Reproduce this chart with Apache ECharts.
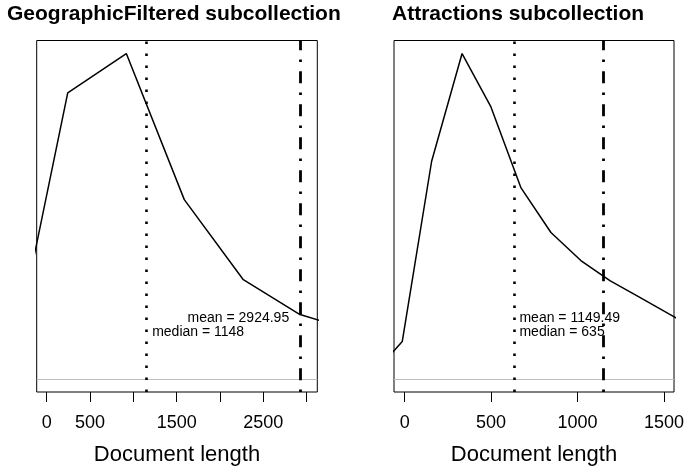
<!DOCTYPE html>
<html>
<head>
<meta charset="utf-8">
<script src="https://cdn.jsdelivr.net/npm/echarts@6/dist/echarts.min.js"></script>
<style>
  html, body { margin: 0; padding: 0; background: #ffffff; }
  #chart { width: 686px; height: 466px; }
</style>
</head>
<body>
<div id="chart"></div>
<script>
// Kernel density of document length per subcollection (relative density, peak = 1)
const geoLength = [-432, 243, 919, 1588, 2269, 2923, 3600];
const geoDensity = [0.006, 0.879, 1.0, 0.551, 0.305, 0.198, 0.143];
const attrLength = [-185, -14, 156, 332, 499, 673, 846, 1019, 1187, 1360, 1531, 1702];
const attrDensity = [0.013, 0.115, 0.669, 1.0, 0.836, 0.587, 0.450, 0.364, 0.302, 0.251, 0.199, 0.149];

// Summary statistics drawn as vertical reference lines
const geoMean = 2924.95;
const geoMedian = 1148;
const attrMean = 1149.49;
const attrMedian = 635;

// Axis ticks and the labels that fit between them
const geoTicks = [0, 500, 1000, 1500, 2000, 2500, 3000];
const geoTickLabels = [0, 500, 1500, 2500];
const attrTicks = [0, 500, 1000, 1500];
const attrTickLabels = [0, 500, 1000, 1500];

const panelTitles = ['GeographicFiltered subcollection', 'Attractions subcollection'];
const xAxisTitle = 'Document length';

const FONT = 'Liberation Sans, Arial, Helvetica, sans-serif';
const LABEL_Y_MEAN = 0.186;
const LABEL_Y_MEDIAN = 0.144;

function pairs(xs, ys) { return xs.map((x, i) => [x, ys[i]]); }

function xAxisFor(idx, min, max, ticks, labels) {
  return {
    gridIndex: idx, type: 'value', min: min, max: max,
    name: xAxisTitle, nameLocation: 'middle', nameGap: 52,
    nameTextStyle: { fontFamily: FONT, fontSize: 22, color: '#000' },
    axisLine: { show: false, onZero: false },
    splitLine: { show: false },
    axisTick: { show: true, inside: false, length: 10, customValues: ticks,
                lineStyle: { color: '#000', width: 1 } },
    axisLabel: { show: true, margin: 22, customValues: labels,
                 formatter: (v) => String(v),
                 fontFamily: FONT, fontSize: 18, color: '#000' }
  };
}

function yAxisFor(idx) {
  return { gridIndex: idx, type: 'value', min: -0.04, max: 1.04, show: false,
           splitLine: { show: false } };
}

const dotted = { color: '#000', width: 2.6, type: [2.6, 9.4], cap: 'butt' };
const dotDash = { color: '#000', width: 2.8, type: [2.6, 9.2, 12, 9.2], cap: 'butt' };
const zeroLine = { color: '#bebebe', width: 1, type: 'solid' };

function labelPoint(x, y, text, side, dist) {
  return {
    coord: [x, y], symbolSize: 0,
    label: { show: true, formatter: text, position: side, distance: dist,
             fontFamily: FONT, fontSize: 14, color: '#000' }
  };
}

function densitySeries(idx, xs, ys, mean, median, labels) {
  return {
    type: 'line', xAxisIndex: idx, yAxisIndex: idx,
    data: pairs(xs, ys), showSymbol: false, symbol: 'none', clip: true,
    lineStyle: { color: '#000', width: 1.5 },
    silent: true,
    markLine: {
      silent: true, symbol: ['none', 'none'], label: { show: false },
      emphasis: { disabled: true },
      data: [
        { yAxis: 0, lineStyle: zeroLine },
        { xAxis: median, lineStyle: dotted },
        { xAxis: mean, lineStyle: dotDash }
      ]
    },
    markPoint: { silent: true, symbol: 'circle', data: labels }
  };
}

const chart = echarts.init(document.getElementById('chart'), null, { renderer: 'canvas' });

chart.setOption({
  animation: false,
  backgroundColor: '#ffffff',
  title: [
    { text: panelTitles[0], left: 7, top: 4, padding: 0,
      textStyle: { fontFamily: FONT, fontSize: 21, fontWeight: 'bold', color: '#000' } },
    { text: panelTitles[1], left: 392, top: 4, padding: 0,
      textStyle: { fontFamily: FONT, fontSize: 21, fontWeight: 'bold', color: '#000' } }
  ],
  grid: [
    { left: 36.7, top: 40.5, width: 280.6, height: 351.5, show: true,
      containLabel: false, outerBoundsMode: 'none',
      borderColor: '#000', borderWidth: 1, backgroundColor: 'transparent' },
    { left: 394, top: 40.5, width: 280, height: 351.5, show: true,
      containLabel: false, outerBoundsMode: 'none',
      borderColor: '#000', borderWidth: 1, backgroundColor: 'transparent' }
  ],
  xAxis: [
    xAxisFor(0, -115, 3122.7, geoTicks, geoTickLabels),
    xAxisFor(1, -61.7, 1557.8, attrTicks, attrTickLabels)
  ],
  yAxis: [yAxisFor(0), yAxisFor(1)],
  series: [
    densitySeries(0, geoLength, geoDensity, geoMean, geoMedian, [
      labelPoint(geoMean, LABEL_Y_MEAN, 'mean = ' + geoMean, 'left', 11),
      labelPoint(geoMedian, LABEL_Y_MEDIAN, 'median = ' + geoMedian, 'right', 6)
    ]),
    densitySeries(1, attrLength, attrDensity, attrMean, attrMedian, [
      labelPoint(attrMedian, LABEL_Y_MEAN, 'mean = ' + attrMean, 'right', 5),
      labelPoint(attrMedian, LABEL_Y_MEDIAN, 'median = ' + attrMedian, 'right', 5)
    ])
  ]
});
</script>
</body>
</html>
